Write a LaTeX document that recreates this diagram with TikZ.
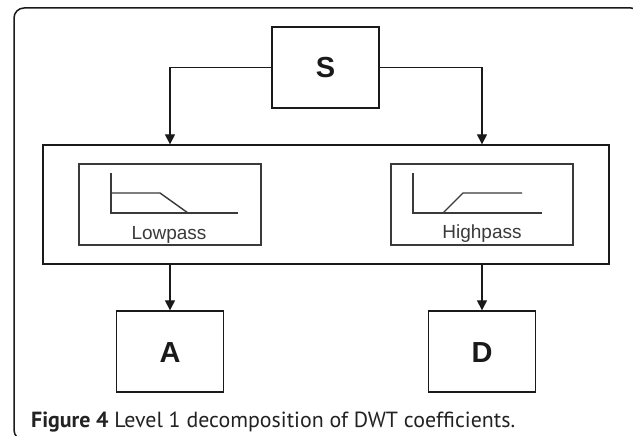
\documentclass[tikz,border=0pt]{standalone}
\usepackage{fontspec}
\setmainfont{Liberation Sans}
\newfontfamily\capfont{PT Sans}
\usetikzlibrary{arrows.meta}
\definecolor{ink}{HTML}{1A1A1A}
\definecolor{grayink}{HTML}{3A3A3A}
\definecolor{capink}{HTML}{222222}
\begin{document}
\begin{tikzpicture}[x=1pt,y=-1pt,
  letterbox/.style={draw=ink, line width=1.3pt, minimum width=107pt, minimum height=81pt,
    inner sep=0pt, font=\fontsize{29}{29}\selectfont\bfseries, text=ink,
    text height=21pt, text depth=0pt},
  filterbox/.style={draw=grayink, line width=1.4pt, minimum width=182pt, minimum height=81pt, inner sep=0pt},
  bigbox/.style={draw=ink, line width=1.3pt, minimum width=566pt, minimum height=119pt, inner sep=0pt},
  curve/.style={draw=grayink, line width=1.4pt},
  flabel/.style={font=\fontsize{19}{19}\selectfont, text=grayink, inner sep=0pt, anchor=base},
  arr/.style={draw=ink, line width=1.2pt, -{Triangle[width=10pt,length=10pt]}}
]
\useasboundingbox (0,0) rectangle (633,436);
\clip (0,0) rectangle (633,436);
\fill[white] (0,0) rectangle (633,436);
\draw[ink, line width=1.5pt, rounded corners=10pt] (14,8) rectangle (641,440);

\node[letterbox] (S) at (325.5,67.5) {S};
\node[bigbox] (big) at (326,204.5) {};
\node[filterbox] (low) at (170,204.5) {};
\node[filterbox] (high) at (482,204.5) {};
\node[letterbox] (A) at (170,351.5) {A};
\node[letterbox] (D) at (482,351.5) {D};

% lowpass response
\draw[curve] (111,173) -- (111,213) -- (238,213);
\draw[curve] (111,193) -- (160,193) -- (188,213);
\node[flabel] (lowtxt) at (169,239) {Lowpass};
% highpass response
\draw[curve] (413,173) -- (413,213) -- (542,213);
\draw[curve] (443,213) -- (463,193) -- (522,193);
\node[flabel] (hightxt) at (482,238) {Highpass};

% connectors
\draw[arr] (S.west) -| (low.north |- big.north);
\draw[arr] (S.east) -| (high.north |- big.north);
\draw[arr] (A.north |- big.south) -- (A.north);
\draw[arr] (D.north |- big.south) -- (D.north);

\node[anchor=base west, inner sep=0pt, text=capink] (cap) at (31,427)
  {\resizebox{484pt}{!}{\capfont\textbf{Figure 4} Level 1 decomposition of DWT coefficients.}};
\end{tikzpicture}
\end{document}
